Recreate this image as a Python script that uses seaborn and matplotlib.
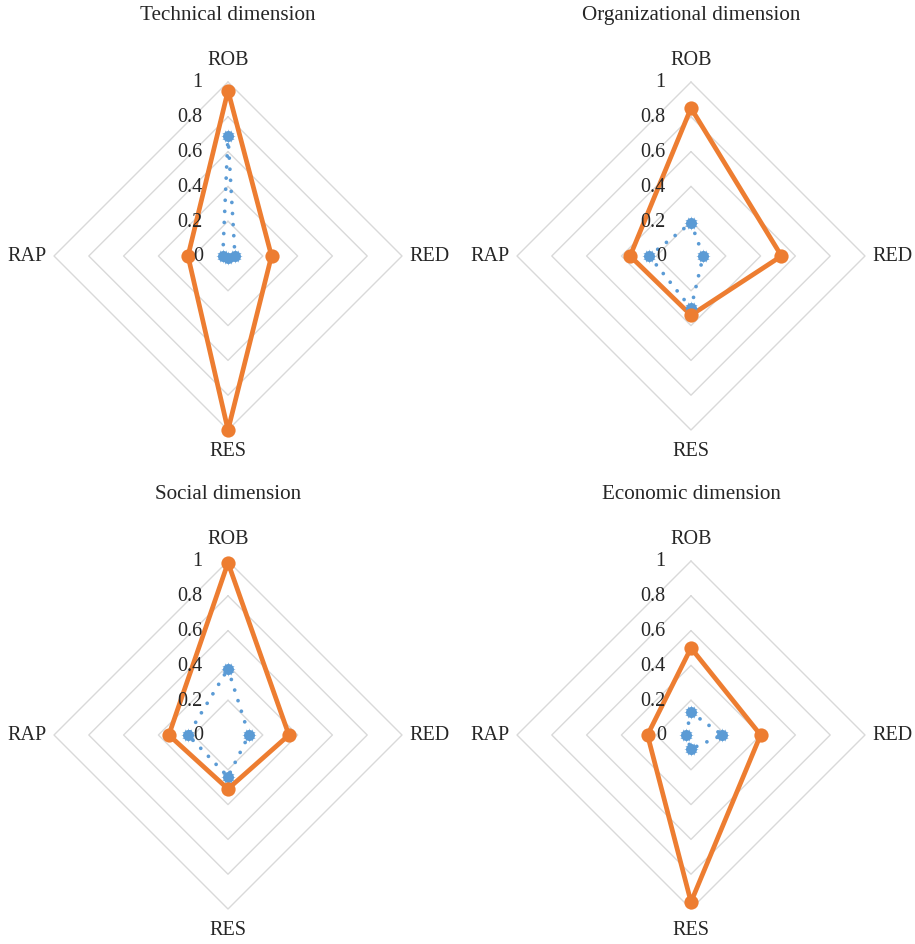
import numpy as np
import pandas as pd
import matplotlib
matplotlib.use("Agg")
import matplotlib.pyplot as plt
import seaborn as sns

sns.set_theme(style="white")
plt.rcParams["font.family"] = ["Liberation Serif", "DejaVu Serif"]

# ---- data -------------------------------------------------------------
axis_labels = ["ROB", "RED", "RES", "RAP"]
grid_levels = [0.2, 0.4, 0.6, 0.8, 1.0]
tick_values = [0, 0.2, 0.4, 0.6, 0.8, 1]
tick_labels = ["0", "0.2", "0.4", "0.6", "0.8", "1"]

titles = ["Technical dimension", "Organizational dimension",
          "Social dimension", "Economic dimension"]

# dotted blue series
technical_blue = [0.69, 0.04, 0.01, 0.03]
organizational_blue = [0.19, 0.07, 0.30, 0.24]
social_blue = [0.38, 0.12, 0.24, 0.23]
economic_blue = [0.13, 0.18, 0.08, 0.03]

# solid orange series
technical_orange = [0.95, 0.25, 1.00, 0.23]
organizational_orange = [0.85, 0.52, 0.34, 0.35]
social_orange = [0.99, 0.35, 0.31, 0.34]
economic_orange = [0.50, 0.40, 0.96, 0.25]

blue_series = [technical_blue, organizational_blue, social_blue, economic_blue]
orange_series = [technical_orange, organizational_orange, social_orange, economic_orange]

# ---- styling ----------------------------------------------------------
BLUE = "#5B9BD5"
ORANGE = "#ED7D31"
GRID = "#D9D9D9"
TEXT = "#262626"

W, H = 915, 945
R_PX = 174.0          # pixel radius of the value 1 ring
LIM = 1.45
centers = [(228, 257), (691, 257), (228, 736), (691, 736)]

# clockwise from top: ROB, RED, RES, RAP
angles = np.pi / 2 - np.arange(len(axis_labels)) * np.pi / 2


def to_xy(values):
    v = np.asarray(values, dtype=float)
    return v * np.cos(angles), v * np.sin(angles)


def closed(a):
    return np.append(a, a[0])


fig = plt.figure(figsize=(W / 100, H / 100), dpi=100)

for title, blue, orange, (cx, cy) in zip(titles, blue_series, orange_series, centers):
    side = 2 * LIM * R_PX
    ax = fig.add_axes([(cx - side / 2) / W, (H - cy - side / 2) / H, side / W, side / H])
    ax.set_xlim(-LIM, LIM)
    ax.set_ylim(-LIM, LIM)
    ax.set_aspect("equal")
    ax.axis("off")

    # polygon gridlines
    for lvl in grid_levels:
        gx, gy = to_xy([lvl] * len(axis_labels))
        ax.plot(closed(gx), closed(gy), color=GRID, lw=1.0, zorder=1)

    bx, by = to_xy(blue)
    ox, oy = to_xy(orange)

    blue_df = pd.DataFrame({"x": closed(bx), "y": closed(by)})
    orange_df = pd.DataFrame({"x": closed(ox), "y": closed(oy)})

    # lines first, then markers on top
    sns.lineplot(data=blue_df, x="x", y="y", sort=False, estimator=None, ax=ax,
                 color=BLUE, lw=2.7, linestyle=(0, (0.01, 2.95)),
                 dash_capstyle="round", zorder=3)
    sns.lineplot(data=orange_df, x="x", y="y", sort=False, estimator=None, ax=ax,
                 color=ORANGE, lw=3.4, zorder=4, solid_joinstyle="round")

    pts_blue = pd.DataFrame({"x": bx, "y": by})
    pts_orange = pd.DataFrame({"x": ox, "y": oy})
    sns.scatterplot(data=pts_blue, x="x", y="y", ax=ax, color=BLUE, s=62,
                    marker="o", linewidth=0, zorder=5)
    sns.scatterplot(data=pts_blue, x="x", y="y", ax=ax, color=BLUE, s=105,
                    marker=(12, 1, 0), linewidth=0, zorder=5)
    sns.scatterplot(data=pts_orange, x="x", y="y", ax=ax, color=ORANGE, s=105,
                    marker="o", linewidth=0, zorder=6)
    ax.set_xlabel("")
    ax.set_ylabel("")

    # radial tick labels along the ROB axis
    for tv, tl in zip(tick_values, tick_labels):
        ax.text(-0.145, tv, tl, ha="right", va="center", fontsize=14.5,
                color=TEXT, zorder=7)

    # category labels
    ax.text(0, 1.13, axis_labels[0], ha="center", va="center", fontsize=14.5, color=TEXT)
    ax.text(1.04, 0, axis_labels[1], ha="left", va="center", fontsize=14.5, color=TEXT)
    ax.text(0, -1.12, axis_labels[2], ha="center", va="center", fontsize=14.5, color=TEXT)
    ax.text(-1.04, 0, axis_labels[3], ha="right", va="center", fontsize=14.5, color=TEXT)

    ax.text(0, 1.39, title, ha="center", va="center", fontsize=15.2, color=TEXT)

fig.savefig("out.png", dpi=100, facecolor="white")
